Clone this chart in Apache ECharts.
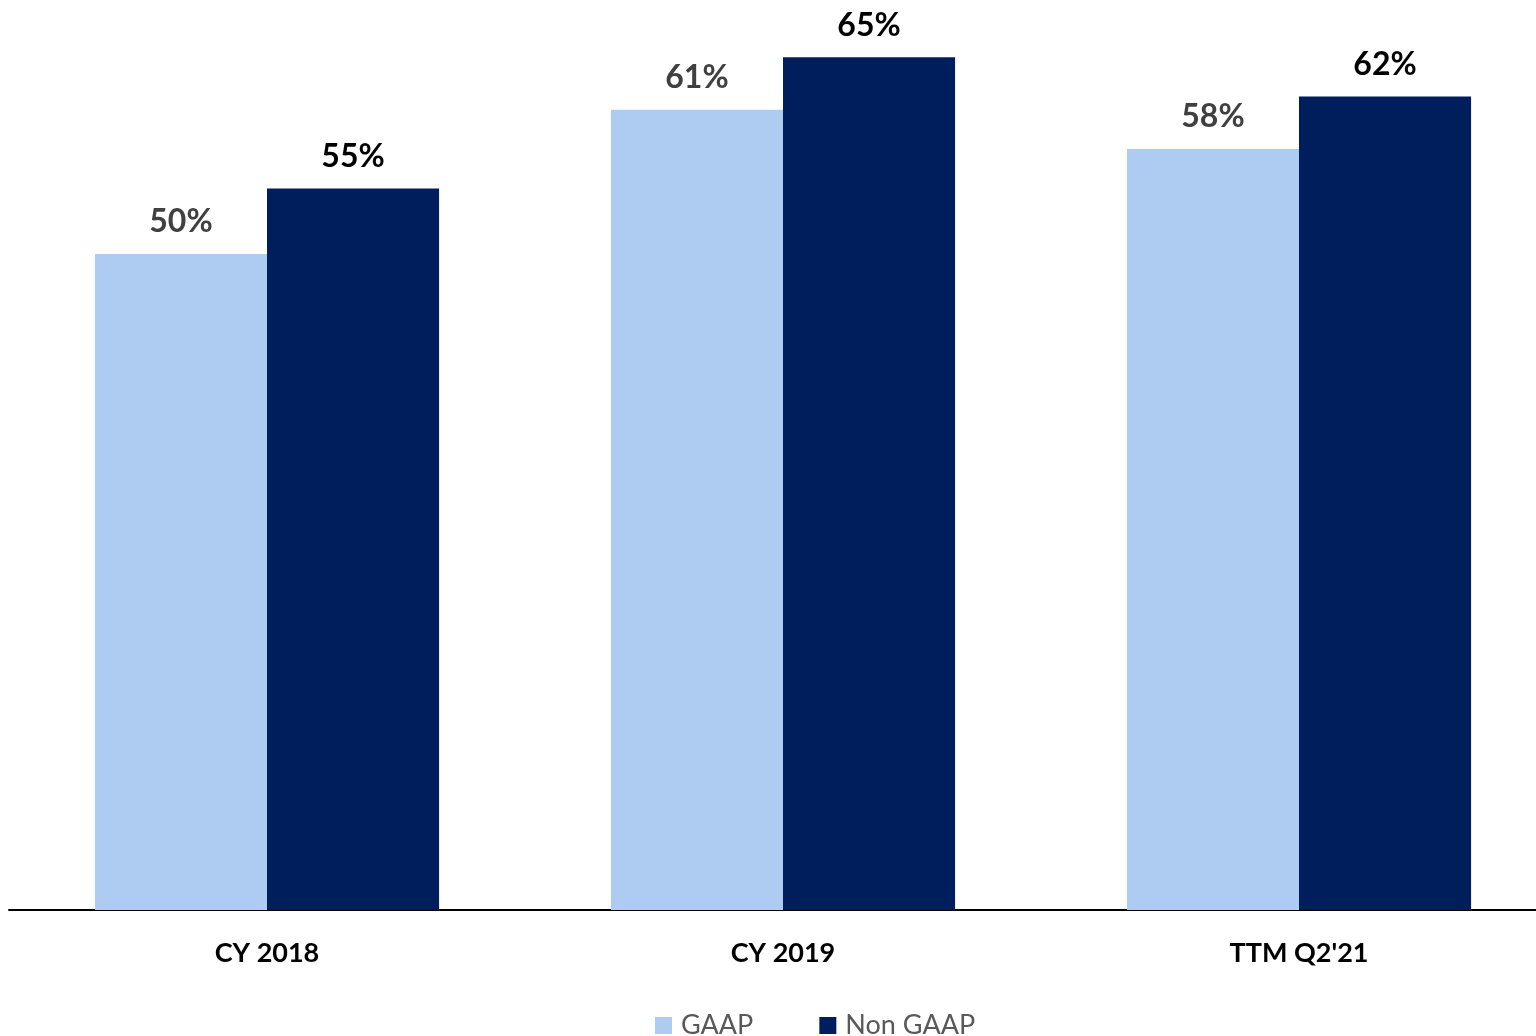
<!DOCTYPE html>
<html>
<head>
<meta charset="utf-8">
<script src="https://cdn.jsdelivr.net/npm/echarts@6/dist/echarts.min.js"></script>
<style>
  html, body { margin: 0; padding: 0; background: #fff; }
  #chart { width: 1536px; height: 1036px; }
</style>
</head>
<body>
<div id="chart"></div>
<script>
// Gross margin by period, GAAP vs Non GAAP (percent)
const categories = ['CY 2018', 'CY 2019', "TTM Q2'21"];
const gaapValues = [50, 61, 58];
const nonGaapValues = [55, 65, 62];
const seriesNames = ['GAAP', 'Non GAAP'];

const FONT = 'Lato, "Open Sans", "Noto Sans", sans-serif';

const chart = echarts.init(document.getElementById('chart'));
chart.setOption({
  animation: false,
  textStyle: { fontFamily: FONT },
  // plot area runs slightly past the right edge of the canvas
  grid: { left: 9, width: 1548, top: 0, height: 910, containLabel: false, outerBoundsMode: 'none' },
  legend: {
    data: seriesNames,
    left: 655,
    top: 1012,
    padding: 0,
    itemWidth: 17,
    itemHeight: 17,
    itemGap: 66,
    icon: 'rect',
    textStyle: { fontFamily: FONT, fontSize: 27, color: '#595959', padding: [0, 0, 0, 4] }
  },
  xAxis: {
    type: 'category',
    data: categories,
    axisLine: { show: true, lineStyle: { color: '#000', width: 2 } },
    axisTick: { show: false },
    axisLabel: { fontFamily: FONT, fontSize: 27, fontWeight: 'bold', color: '#000', margin: 30 }
  },
  yAxis: {
    type: 'value',
    min: 0,
    max: 69.36,
    show: false,
    splitLine: { show: false }
  },
  series: [
    {
      name: seriesNames[0],
      type: 'bar',
      data: gaapValues,
      barGap: '0%',
      barCategoryGap: '33.3%',
      itemStyle: { color: '#AECCF2' },
      label: {
        show: true, position: 'top', distance: 16,
        formatter: p => p.value + '%',
        fontFamily: FONT, fontSize: 32, fontWeight: 'bold', color: '#404040'
      }
    },
    {
      name: seriesNames[1],
      type: 'bar',
      data: nonGaapValues,
      barGap: '0%',
      barCategoryGap: '33.3%',
      itemStyle: { color: '#011E5C' },
      label: {
        show: true, position: 'top', distance: 16,
        formatter: p => p.value + '%',
        fontFamily: FONT, fontSize: 32, fontWeight: 'bold', color: '#000'
      }
    }
  ]
});
</script>
</body>
</html>
